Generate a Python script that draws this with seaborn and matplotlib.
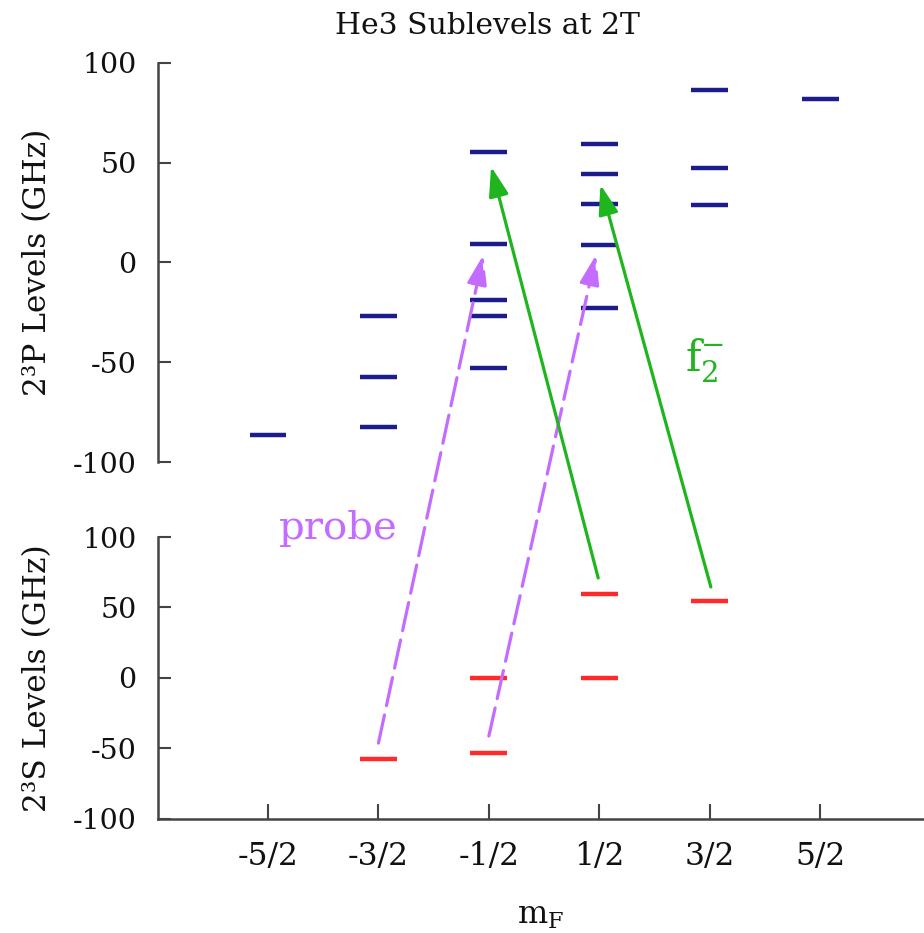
import pandas as pd
import seaborn as sns
import matplotlib.pyplot as plt
from matplotlib.patches import ConnectionPatch

# m_F columns
mf_values = [-2.5, -1.5, -0.5, 0.5, 1.5, 2.5]
mf_labels = ["-5/2", "-3/2", "-1/2", "1/2", "3/2", "5/2"]

# 2^3P sublevels (GHz)
p_mf = [-2.5,
        -1.5, -1.5, -1.5,
        -0.5, -0.5, -0.5, -0.5, -0.5,
        0.5, 0.5, 0.5, 0.5, 0.5,
        1.5, 1.5, 1.5,
        2.5]
p_ghz = [-86.5,
         -26.8, -57.4, -82.5,
         55.4, 9.3, -18.8, -26.8, -52.9,
         59.6, 44.2, 29.2, 8.6, -22.7,
         86.5, 47.5, 28.8,
         82.0]

# 2^3S sublevels (GHz)
s_mf = [-1.5, -0.5, -0.5, 0.5, 0.5, 1.5]
s_ghz = [-57.9, 0.0, -53.7, 59.5, 0.0, 54.7]

# transitions: tail in 2^3S panel, head in 2^3P panel
probe_from_mf = [-1.5, -0.5]
probe_from_ghz = [-46.4, -41.4]
probe_to_mf = [-0.55, 0.47]
probe_to_ghz = [3.8, 3.8]

f2_from_mf = [0.49, 1.51]
f2_from_ghz = [70.9, 64.5]
f2_to_mf = [-0.48, 0.51]
f2_to_ghz = [48.1, 39.0]

BLUE = "#1c1c8c"
RED = "#ff2a2a"
GREEN = "#1fb51f"
VIOLET = "#c46cff"
AXIS = "#444444"
INK = "#111111"

sns.set_theme(style="ticks")
plt.rcParams["font.family"] = ["DejaVu Serif"]
plt.rcParams["mathtext.fontset"] = "dejavuserif"
plt.rcParams["text.color"] = INK
plt.rcParams["axes.labelcolor"] = INK
plt.rcParams["xtick.labelcolor"] = INK
plt.rcParams["ytick.labelcolor"] = INK

p_df = pd.DataFrame({"mf": p_mf, "ghz": p_ghz})
s_df = pd.DataFrame({"mf": s_mf, "ghz": s_ghz})
half = 1 / 6

fig = plt.figure(figsize=(9.24, 9.33), dpi=100)
ax_p = fig.add_axes([0.1705, 0.5048, 0.8295, 0.4277])
ax_s = fig.add_axes([0.1705, 0.1227, 0.8295, 0.3017], sharex=ax_p)

ax_p.hlines(p_df["ghz"], p_df["mf"] - half, p_df["mf"] + half, color=BLUE, lw=3.2)
ax_s.hlines(s_df["ghz"], s_df["mf"] - half, s_df["mf"] + half, color=RED, lw=3.2)

for ax in (ax_p, ax_s):
    ax.set_ylim(-100, 100)
    ax.set_yticks([-100, -50, 0, 50, 100])
    ax.set_yticklabels(["-100", "-50", "0", "50", "100"])
    ax.tick_params(axis="y", direction="in", length=9.5, width=1.5, color=AXIS,
                   pad=15, labelsize=20.5)
    ax.spines["left"].set_color(AXIS)
    ax.spines["left"].set_linewidth(1.8)
    ax.yaxis.set_label_coords(-0.137, 0.5)

sns.despine(ax=ax_p, top=True, right=True, bottom=True)
sns.despine(ax=ax_s, top=True, right=True)
ax_p.tick_params(axis="x", bottom=False, labelbottom=False)

ax_s.set_xlim(-3.5, 3.44)
ax_s.set_xticks(mf_values)
ax_s.set_xticklabels(mf_labels)
ax_s.tick_params(axis="x", direction="in", length=11, width=1.5, color=AXIS,
                 pad=16, labelsize=22.5)
ax_s.spines["bottom"].set_color(AXIS)
ax_s.spines["bottom"].set_linewidth(1.8)

ax_p.set_ylabel("2³P Levels (GHz)", fontsize=22.5)
ax_s.set_ylabel("2³S Levels (GHz)", fontsize=22.5)
ax_s.set_xlabel(r"m$_\mathrm{F}$", fontsize=23, labelpad=20)

for x0, y0, x1, y1 in zip(probe_from_mf, probe_from_ghz, probe_to_mf, probe_to_ghz):
    arr = ConnectionPatch(xyA=(x0, y0), coordsA=ax_s.transData,
                          xyB=(x1, y1), coordsB=ax_p.transData,
                          arrowstyle="-|>,head_length=0.6,head_width=0.2",
                          mutation_scale=30, lw=2.3, color=VIOLET,
                          linestyle=(0, (9, 3)), shrinkA=0, shrinkB=0)
    fig.add_artist(arr)

for x0, y0, x1, y1 in zip(f2_from_mf, f2_from_ghz, f2_to_mf, f2_to_ghz):
    arr = ConnectionPatch(xyA=(x0, y0), coordsA=ax_s.transData,
                          xyB=(x1, y1), coordsB=ax_p.transData,
                          arrowstyle="-|>,head_length=0.6,head_width=0.2",
                          mutation_scale=30, lw=2.3, color=GREEN,
                          shrinkA=0, shrinkB=0)
    fig.add_artist(arr)

fig.text(0.366, 0.434, "probe", color=VIOLET, fontsize=29, ha="center", va="center")
fig.text(0.762, 0.614, r"$\mathrm{f}_2^{-}$", color=GREEN, fontsize=30,
         ha="center", va="center")
fig.text(0.528, 0.972, "He3 Sublevels at 2T", fontsize=21.5, ha="center", va="center")

fig.savefig("out.png", dpi=100)
